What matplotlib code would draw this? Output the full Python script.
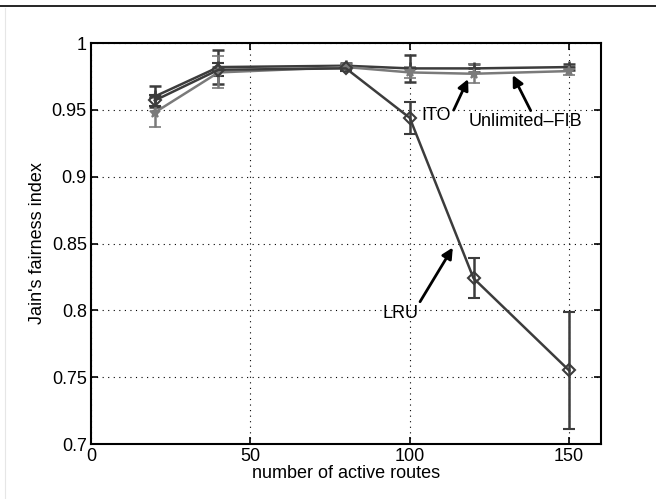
import numpy as np
import matplotlib.pyplot as plt
from matplotlib.lines import Line2D

plt.rcParams['font.family'] = ['Liberation Sans', 'DejaVu Sans']

routes = [20, 40, 80, 100, 120, 150]

# Jain's fairness index per cache policy (mean and error half-widths)
unlimited = [0.960, 0.982, 0.983, 0.981, 0.981, 0.982]
unlimited_err = [0.008, 0.013, 0.002, 0.010, 0.003, 0.002]
ito = [0.948, 0.978, 0.982, 0.978, 0.977, 0.979]
ito_err = [0.011, 0.012, 0.002, 0.004, 0.007, 0.003]
lru = [0.957, 0.980, 0.981, 0.944, 0.824, 0.755]
lru_err = [0.004, 0.005, 0.002, 0.012, 0.015, 0.044]

fig = plt.figure(figsize=(6.56, 4.99), dpi=100)
ax = fig.add_axes([0.1387, 0.1102, 0.7775, 0.8036])

dark = '#3c3c3c'
gray = '#7a7a7a'
ax.errorbar(routes, unlimited, yerr=unlimited_err, color=dark, lw=1.8,
            marker='+', ms=8, mew=1.8, capsize=4, capthick=1.8, elinewidth=1.8)
ax.errorbar(routes, ito, yerr=ito_err, color=gray, lw=1.8,
            marker='*', ms=7, mew=1.2, capsize=4, capthick=1.8, elinewidth=1.8)
ax.errorbar(routes, lru, yerr=lru_err, color=dark, lw=1.8,
            marker='D', ms=6, mfc='none', mew=1.5, capsize=4, capthick=1.8,
            elinewidth=1.8)

fs = 13
arrow = dict(arrowstyle='-|>', color='black', lw=2, mutation_scale=16,
             shrinkA=0, shrinkB=0)
ax.annotate('ITO', xy=(118.3, 0.973), xytext=(103.6, 0.946),
            fontsize=fs, va='center', ha='left',
            arrowprops=dict(arrow, relpos=(1.1, 0.8)))
ax.annotate('Unlimited\u2013FIB', xy=(132.3, 0.976), xytext=(118.5, 0.941),
            fontsize=fs, va='center', ha='left',
            arrowprops=dict(arrow, relpos=(0.55, 1.1)))
ax.annotate('LRU', xy=(113.5, 0.847), xytext=(91.4, 0.798),
            fontsize=fs, va='center', ha='left',
            arrowprops=dict(arrow, relpos=(1.0, 1.0)))

ax.set_xlim(0, 160)
ax.set_ylim(0.7, 1.0)
ax.set_xticks([0, 50, 100, 150])
ax.set_yticks([0.7, 0.75, 0.8, 0.85, 0.9, 0.95, 1.0])
ax.set_yticklabels(['0.7', '0.75', '0.8', '0.85', '0.9', '0.95', '1'])
ax.grid(True, color='black', linestyle=(0, (1, 4)), lw=0.8)
ax.tick_params(direction='in', top=True, right=True, length=5, width=1.2,
               labelsize=fs, pad=3)
for s in ax.spines.values():
    s.set_linewidth(1.5)
ax.set_xlabel("number of active routes", fontsize=fs, labelpad=0)
ax.set_ylabel("Jain's fairness index", fontsize=fs, labelpad=4)

# page rule above the figure and faint margin line on the left
fig.add_artist(Line2D([0, 1], [0.988, 0.988], color='black', lw=1.2))
fig.add_artist(Line2D([0.008, 0.008], [0, 0.984], color='#e6e6e6', lw=0.8))

fig.savefig('out.png', dpi=100)
